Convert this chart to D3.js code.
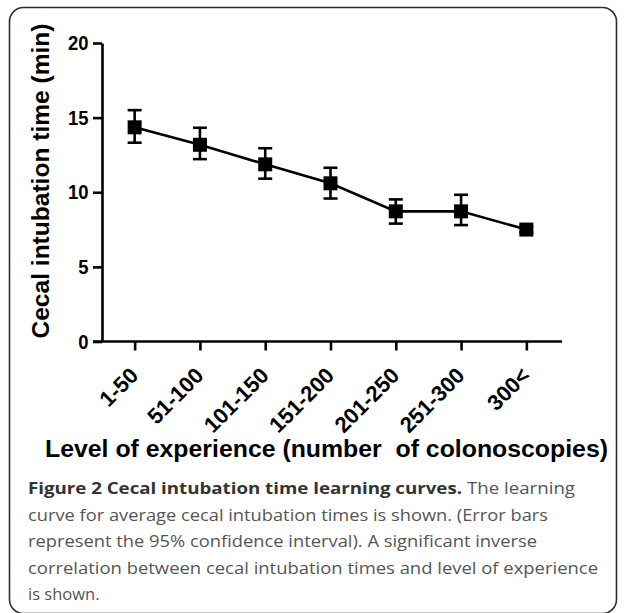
<!DOCTYPE html>
<html>
<head>
<meta charset="utf-8">
<script src="https://cdn.jsdelivr.net/npm/d3@7"></script>
<style>
  html, body { margin: 0; padding: 0; background: #fff; }
  svg { display: block; }
</style>
</head>
<body>
<svg id="chart" width="625" height="613"></svg>
<script>
// ---- data ----
const categories = ["1-50", "51-100", "101-150", "151-200", "201-250", "251-300", "300<"];
const meanTime   = [14.35, 13.18, 11.87, 10.6, 8.72, 8.72, 7.5];
const ciUpper    = [15.5, 14.32, 12.95, 11.64, 9.52, 9.83, 7.7];
const ciLower    = [13.32, 12.22, 10.91, 9.58, 7.9, 7.8, 7.3];
const yTicks     = [0, 5, 10, 15, 20];
const yTitle = "Cecal intubation time (min)";
const xTitle = "Level of experience (number  of colonoscopies)";
const captionBold = "Figure 2 Cecal intubation time learning curves.";
const captionLines = [
  " The learning",
  "curve for average cecal intubation times is shown. (Error bars",
  "represent the 95% confidence interval). A significant inverse",
  "correlation between cecal intubation times and level of experience",
  "is shown."
];

const data = categories.map((c, i) => ({ cat: c, mean: meanTime[i], hi: ciUpper[i], lo: ciLower[i] }));

const svg = d3.select("#chart");

// frame
svg.append("rect")
  .attr("x", 9.5).attr("y", 7.5)
  .attr("width", 607).attr("height", 606)
  .attr("rx", 14).attr("ry", 14)
  .attr("fill", "none").attr("stroke", "#2e2e2e").attr("stroke-width", 1.6);

const axisFont = "'Liberation Sans', Arial, Helvetica, sans-serif";

const x = d3.scalePoint().domain(categories).range([102, 559]).padding(0.5);
const y = d3.scaleLinear().domain([0, 20]).range([341.5, 43]);

// y axis
const yAxis = svg.append("g")
  .attr("transform", "translate(102,0)")
  .call(d3.axisLeft(y).tickValues(yTicks).tickSize(9).tickSizeOuter(0).tickPadding(4));
yAxis.selectAll("path, line").attr("stroke", "#000").attr("stroke-width", 2.6);
yAxis.selectAll("text")
  .attr("fill", "#000")
  .attr("transform", "scale(0.9,1)")
  .attr("x", -15)
  .style("font-family", axisFont).style("font-weight", "bold").style("font-size", "20.5px");

// x axis
const xAxis = svg.append("g")
  .attr("transform", "translate(0,341.5)")
  .call(d3.axisBottom(x).tickSize(9).tickSizeOuter(0));
xAxis.select("path.domain").attr("d", "M93,0H562");
xAxis.selectAll("path, line").attr("stroke", "#000").attr("stroke-width", 2.6);
xAxis.selectAll("text")
  .attr("fill", "#000")
  .attr("x", 0).attr("y", 0).attr("dy", "0.35em")
  .attr("text-anchor", "end")
  .attr("transform", "translate(-1,30) rotate(-45)")
  .style("font-family", axisFont).style("font-weight", "bold").style("font-size", "22px");

// axis titles
svg.append("text")
  .attr("transform", "translate(49,181) rotate(-90)")
  .attr("text-anchor", "middle")
  .attr("textLength", 315).attr("lengthAdjust", "spacingAndGlyphs")
  .style("font-family", axisFont).style("font-weight", "bold").style("font-size", "23px")
  .attr("fill", "#000")
  .text(yTitle);

svg.append("text")
  .attr("x", 45).attr("y", 457)
  .attr("textLength", 563).attr("lengthAdjust", "spacingAndGlyphs")
  .style("white-space", "pre")
  .style("font-family", axisFont).style("font-weight", "bold").style("font-size", "23.5px")
  .attr("fill", "#000")
  .text(xTitle);

// line
svg.append("path")
  .datum(data)
  .attr("fill", "none").attr("stroke", "#000").attr("stroke-width", 2.6)
  .attr("d", d3.line().x(d => x(d.cat)).y(d => y(d.mean)));

// error bars
const capW = 7;
const eb = svg.append("g").attr("stroke", "#000").attr("stroke-width", 2.6);
eb.selectAll("line.v").data(data).join("line")
  .attr("x1", d => x(d.cat)).attr("x2", d => x(d.cat))
  .attr("y1", d => y(d.hi)).attr("y2", d => y(d.lo));
eb.selectAll("line.t").data(data).join("line")
  .attr("x1", d => x(d.cat) - capW).attr("x2", d => x(d.cat) + capW)
  .attr("y1", d => y(d.hi)).attr("y2", d => y(d.hi));
eb.selectAll("line.b").data(data).join("line")
  .attr("x1", d => x(d.cat) - capW).attr("x2", d => x(d.cat) + capW)
  .attr("y1", d => y(d.lo)).attr("y2", d => y(d.lo));

// markers
const ms = 14;
svg.append("g").selectAll("rect").data(data).join("rect")
  .attr("x", d => x(d.cat) - ms / 2).attr("y", d => y(d.mean) - ms / 2)
  .attr("width", ms).attr("height", ms)
  .attr("fill", "#000");

// caption
const capFont = "'Open Sans', 'Noto Sans', sans-serif";
const capY0 = 494, capDy = 26.6;
const capLens = [547, 520, 509, 570, null];
captionLines.forEach((line, i) => {
  const t = svg.append("text")
    .attr("x", 28).attr("y", capY0 + i * capDy)
    .style("font-family", capFont).style("font-size", "16.5px")
    .style("white-space", "pre")
    .attr("fill", "#555");
  if (capLens[i]) t.attr("textLength", capLens[i]).attr("lengthAdjust", "spacingAndGlyphs");
  if (i === 0) {
    t.append("tspan").style("font-weight", "bold").attr("fill", "#333").text(captionBold);
    t.append("tspan").text(line);
  } else {
    t.text(line);
  }
});
</script>
</body>
</html>
